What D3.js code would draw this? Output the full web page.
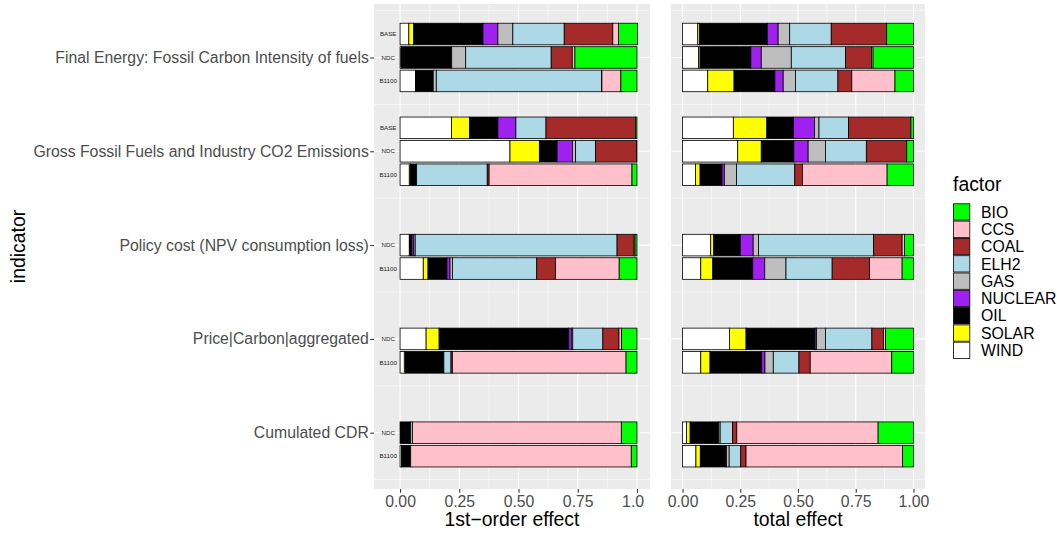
<!DOCTYPE html>
<html>
<head>
<meta charset="utf-8">
<script src="https://cdn.jsdelivr.net/npm/d3@7"></script>
<style>
  body { margin: 0; background: #ffffff; }
  text { font-family: "Liberation Sans", Arial, Helvetica, sans-serif; }
</style>
</head>
<body>
<svg id="chart" width="1057" height="533"></svg>
<script>
// ---------------- DATA ----------------
const indicators = [
  "Final Energy: Fossil Carbon Intensity of fuels",
  "Gross Fossil Fuels and Industry CO2 Emissions",
  "Policy cost (NPV consumption loss)",
  "Price|Carbon|aggregated",
  "Cumulated CDR"
];
const scenarios = ["BASE", "NDC", "B1100"];
// stacking order (left to right)
const factors = ["WIND", "SOLAR", "OIL", "NUCLEAR", "GAS", "ELH2", "COAL", "CCS", "BIO"];
// legend order (top to bottom)
const legendFactors = ["BIO", "CCS", "COAL", "ELH2", "GAS", "NUCLEAR", "OIL", "SOLAR", "WIND"];
const factorColors = ["#FFFFFF", "#FFFF00", "#000000", "#A020F0", "#BEBEBE", "#ADD8E6", "#A52A2A", "#FFC0CB", "#00FF00"];

// one entry per bar
const rowIndicator = [0, 0, 0, 1, 1, 1, 2, 2, 3, 3, 4, 4];
const rowScenario  = ["BASE", "NDC", "B1100", "BASE", "NDC", "B1100", "NDC", "B1100", "NDC", "B1100", "NDC", "B1100"];

// values per bar, in factor order WIND, SOLAR, OIL, NUCLEAR, GAS, ELH2, COAL, CCS, BIO
const firstOrderEffect = [
  [0.037, 0.020, 0.293, 0.063, 0.063, 0.217, 0.205, 0.024, 0.080],
  [0.004, 0.000, 0.214, 0.000, 0.059, 0.361, 0.089, 0.011, 0.262],
  [0.065, 0.000, 0.075, 0.000, 0.013, 0.697, 0.002, 0.080, 0.068],
  [0.217, 0.076, 0.120, 0.076, 0.000, 0.127, 0.379, 0.000, 0.005],
  [0.464, 0.124, 0.075, 0.065, 0.013, 0.084, 0.173, 0.000, 0.002],
  [0.039, 0.004, 0.027, 0.000, 0.000, 0.298, 0.008, 0.603, 0.021],
  [0.039, 0.000, 0.011, 0.008, 0.006, 0.852, 0.072, 0.004, 0.008],
  [0.098, 0.020, 0.080, 0.013, 0.010, 0.356, 0.079, 0.269, 0.075],
  [0.110, 0.055, 0.547, 0.011, 0.006, 0.127, 0.068, 0.011, 0.065],
  [0.018, 0.004, 0.163, 0.000, 0.000, 0.030, 0.006, 0.733, 0.046],
  [0.000, 0.000, 0.042, 0.000, 0.003, 0.008, 0.000, 0.881, 0.066],
  [0.007, 0.000, 0.038, 0.000, 0.000, 0.000, 0.000, 0.931, 0.024]
];
const totalEffect = [
  [0.066, 0.007, 0.294, 0.047, 0.050, 0.180, 0.240, 0.000, 0.116],
  [0.069, 0.007, 0.220, 0.045, 0.130, 0.235, 0.112, 0.007, 0.175],
  [0.109, 0.114, 0.177, 0.036, 0.053, 0.184, 0.060, 0.187, 0.080],
  [0.220, 0.145, 0.115, 0.092, 0.019, 0.128, 0.270, 0.000, 0.011],
  [0.239, 0.102, 0.141, 0.062, 0.075, 0.177, 0.175, 0.000, 0.029],
  [0.056, 0.020, 0.095, 0.010, 0.053, 0.252, 0.033, 0.367, 0.114],
  [0.122, 0.013, 0.115, 0.056, 0.023, 0.498, 0.124, 0.010, 0.039],
  [0.079, 0.052, 0.173, 0.052, 0.092, 0.200, 0.162, 0.141, 0.049],
  [0.203, 0.072, 0.299, 0.006, 0.039, 0.201, 0.050, 0.009, 0.121],
  [0.079, 0.040, 0.224, 0.014, 0.036, 0.111, 0.049, 0.353, 0.094],
  [0.017, 0.016, 0.124, 0.000, 0.006, 0.053, 0.019, 0.612, 0.153],
  [0.058, 0.019, 0.109, 0.004, 0.012, 0.050, 0.023, 0.678, 0.047]
];
const xTickValues = [0, 0.25, 0.5, 0.75, 1];
const xMinorValues = [-0.125, 0.125, 0.375, 0.625, 0.875, 1.125];
const panelTitles = ["1st\u2212order effect", "total effect"];

// ---------------- LAYOUT ----------------
const svg = d3.select("#chart");
const PANEL_TOP = 4, PANEL_BOTTOM = 489;
const yScale = d3.scaleLinear().domain([-0.57, 4.6]).range([PANEL_TOP, PANEL_BOTTOM]);
const scenarioOffset = d3.scalePoint().domain(scenarios).range([-0.25, 0.25]);
const barHalf = 0.115;
const color = d3.scaleOrdinal().domain(factors).range(factorColors);

const AXIS_TEXT = 15.8, TITLE_TEXT = 19.4;
const panels = [
  { x0: 374, x1: 650, domain: [-0.11, 1.055], data: firstOrderEffect, title: panelTitles[0], labels: true, clipRight: 644 },
  { x0: 671, x1: 925, domain: [-0.05, 1.05], data: totalEffect, title: panelTitles[1], labels: false, clipRight: 1057 }
];

const defs = svg.append("defs");

panels.forEach((p, pi) => {
  const x = d3.scaleLinear().domain(p.domain).range([p.x0, p.x1]);
  const g = svg.append("g");

  // background
  g.append("rect").attr("x", p.x0).attr("y", PANEL_TOP)
    .attr("width", p.x1 - p.x0).attr("height", PANEL_BOTTOM - PANEL_TOP)
    .attr("fill", "#EBEBEB");

  // minor gridlines
  const [dlo, dhi] = p.domain;
  g.selectAll(".vminor").data(xMinorValues.filter(v => v > dlo && v < dhi)).join("line")
    .attr("x1", d => x(d)).attr("x2", d => x(d))
    .attr("y1", PANEL_TOP).attr("y2", PANEL_BOTTOM)
    .attr("stroke", "#FFFFFF").attr("stroke-width", 0.55);
  const yMinor = d3.range(-0.5, 5, 1).filter(v => v > yScale.domain()[0] && v < yScale.domain()[1]);
  g.selectAll(".hminor").data(yMinor).join("line")
    .attr("x1", p.x0).attr("x2", p.x1)
    .attr("y1", d => yScale(d)).attr("y2", d => yScale(d))
    .attr("stroke", "#FFFFFF").attr("stroke-width", 0.55);
  // major gridlines
  g.selectAll(".vmajor").data(xTickValues).join("line")
    .attr("x1", d => x(d)).attr("x2", d => x(d))
    .attr("y1", PANEL_TOP).attr("y2", PANEL_BOTTOM)
    .attr("stroke", "#FFFFFF").attr("stroke-width", 1.1);
  g.selectAll(".hmajor").data(d3.range(indicators.length)).join("line")
    .attr("x1", p.x0).attr("x2", p.x1)
    .attr("y1", d => yScale(d)).attr("y2", d => yScale(d))
    .attr("stroke", "#FFFFFF").attr("stroke-width", 1.1);

  // stacked bars
  const rowsObj = p.data.map((vals, i) => {
    const o = { row: i };
    factors.forEach((f, j) => { o[f] = vals[j]; });
    return o;
  });
  const stacked = d3.stack().keys(factors)(rowsObj);
  const barG = g.append("g");
  stacked.forEach(layer => {
    barG.selectAll(null).data(layer).join("rect")
      .attr("x", d => x(d[0]))
      .attr("width", d => Math.max(0, x(d[1]) - x(d[0])))
      .attr("y", d => yScale(rowIndicator[d.data.row] + scenarioOffset(rowScenario[d.data.row]) - barHalf))
      .attr("height", d => yScale(barHalf * 2) - yScale(0))
      .attr("fill", color(layer.key))
      .attr("stroke", "#000000")
      .attr("stroke-width", 0.8);
  });

  // scenario labels
  if (p.labels) {
    g.selectAll(".scen").data(rowIndicator.map((ind, i) => i)).join("text")
      .attr("x", x(-0.05))
      .attr("y", i => yScale(rowIndicator[i] + scenarioOffset(rowScenario[i])))
      .attr("dy", "0.35em")
      .attr("text-anchor", "middle")
      .attr("font-size", 6.2)
      .attr("fill", "#222222")
      .text(i => rowScenario[i]);
  }

  // x axis
  const clipId = "clipx" + pi;
  defs.append("clipPath").attr("id", clipId).append("rect")
    .attr("x", 0).attr("y", 0).attr("width", p.clipRight).attr("height", 533);
  const ax = svg.append("g")
    .attr("transform", `translate(0,${PANEL_BOTTOM})`)
    .attr("clip-path", `url(#${clipId})`)
    .call(d3.axisBottom(x).tickValues(xTickValues).tickFormat(d3.format(".2f"))
      .tickSize(3.7).tickPadding(2.8));
  ax.select(".domain").remove();
  ax.selectAll(".tick line").attr("stroke", "#333333").attr("stroke-width", 1.07);
  ax.selectAll(".tick text").attr("fill", "#4D4D4D")
    .attr("font-size", AXIS_TEXT)
    .attr("font-family", "'Liberation Sans', Arial, Helvetica, sans-serif");

  // x title
  svg.append("text")
    .attr("x", (p.x0 + p.x1) / 2).attr("y", 526)
    .attr("text-anchor", "middle")
    .attr("font-size", TITLE_TEXT).attr("fill", "#000000")
    .text(p.title);

  // y axis (left panel only)
  if (pi === 0) {
    const ay = svg.append("g")
      .attr("transform", `translate(${p.x0},0)`)
      .call(d3.axisLeft(yScale).tickValues(d3.range(indicators.length))
        .tickFormat(i => indicators[i]).tickSize(3.7).tickPadding(1.5));
    ay.select(".domain").remove();
    ay.selectAll(".tick line").attr("stroke", "#333333").attr("stroke-width", 1.07);
    ay.selectAll(".tick text").attr("fill", "#4D4D4D")
      .attr("font-size", AXIS_TEXT)
      .attr("font-family", "'Liberation Sans', Arial, Helvetica, sans-serif");
  }
});

// y title
svg.append("text")
  .attr("transform", `translate(25,${(PANEL_TOP + PANEL_BOTTOM) / 2}) rotate(-90)`)
  .attr("text-anchor", "middle")
  .attr("font-size", TITLE_TEXT).attr("fill", "#000000")
  .text("indicator");

// legend
const legend = svg.append("g");
legend.append("text").attr("x", 953).attr("y", 191)
  .attr("font-size", TITLE_TEXT).attr("fill", "#000000").text("factor");
const keyH = 17.3, keyTop = 203.3;
const keyY = d3.scaleBand().domain(legendFactors).range([keyTop, keyTop + keyH * legendFactors.length]);
legend.selectAll(".key").data(legendFactors).join("rect")
  .attr("x", 953.5).attr("y", d => keyY(d) + 0.5)
  .attr("width", keyH - 1).attr("height", keyH - 1)
  .attr("fill", d => color(d))
  .attr("stroke", "#000000").attr("stroke-width", 0.8);
legend.selectAll(".lab").data(legendFactors).join("text")
  .attr("x", 981).attr("y", d => keyY(d) + keyH / 2)
  .attr("dy", "0.36em")
  .attr("font-size", AXIS_TEXT).attr("fill", "#000000")
  .text(d => d);
</script>
</body>
</html>
